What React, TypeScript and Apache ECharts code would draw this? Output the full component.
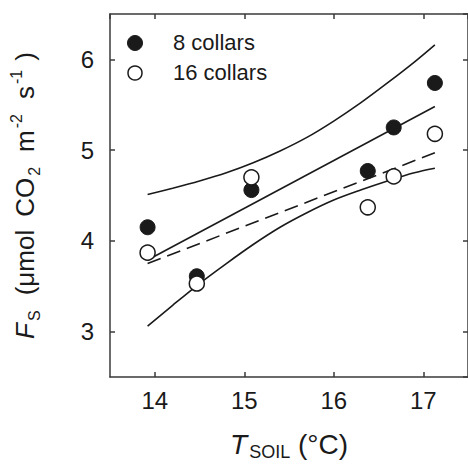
import React, { useEffect, useRef } from 'react';
import * as echarts from 'echarts';

const tempX = [13.92, 14.47, 15.08, 16.38, 16.67, 17.13];
const flux8 = [4.15, 3.61, 4.56, 4.77, 5.25, 5.74];
const flux16 = [3.87, 3.53, 4.7, 4.37, 4.71, 5.18];
const fitX = [13.92, 17.13];
const fit8Y = [3.79, 5.48];
const fit16Y = [3.75, 4.97];
const bandX = [13.92, 14.2, 14.5, 14.8, 15.1, 15.4, 15.7, 16.0, 16.3, 16.6, 16.9, 17.13];
const upperY = [4.51, 4.58, 4.66, 4.75, 4.86, 4.99, 5.14, 5.32, 5.52, 5.74, 5.97, 6.16];
const lowerY = [3.06, 3.29, 3.53, 3.75, 3.96, 4.15, 4.31, 4.45, 4.56, 4.66, 4.75, 4.8];
const seriesNames = ['8 collars', '16 collars'];

const FONT = '"Liberation Sans", Arial, Helvetica, sans-serif';
const INK = '#1a1a1a';
const AXIS = '#3a3a3a';

const zip = (xs: number[], ys: number[]) => xs.map((x, i) => [x, ys[i]]);

export default function App() {
  const ref = useRef<HTMLDivElement>(null);
  useEffect(() => {
    document.body.style.margin = '0';
    if (!ref.current) return;
    const chart = echarts.init(ref.current, undefined, { renderer: 'svg' });
    const axisCommon = {
      type: 'value' as const,
      splitNumber: 4,
      axisLine: { show: true, lineStyle: { color: AXIS, width: 1.5 } },
      axisTick: { show: true, inside: true, length: 5, lineStyle: { color: AXIS, width: 1.5 } },
      splitLine: { show: false },
    };
    const lineCommon = {
      type: 'line' as const,
      showSymbol: false,
      symbol: 'none',
      silent: true,
      z: 2,
    };
    const main = { color: INK, fontFamily: FONT };
    chart.setOption({
      animation: false,
      backgroundColor: '#ffffff',
      textStyle: { fontFamily: FONT },
      grid: { left: 107, top: 14, width: 364, height: 363, containLabel: false },
      graphic: [
        {
          type: 'circle',
          shape: { cx: 135, cy: 43, r: 7.5 },
          style: { fill: INK, stroke: INK, lineWidth: 1 },
          z: 10,
        },
        {
          type: 'text',
          x: 173,
          y: 42,
          style: { text: seriesNames[0], fontSize: 22, fill: INK, fontFamily: FONT, verticalAlign: 'middle', align: 'left' },
          z: 10,
        },
        {
          type: 'circle',
          shape: { cx: 135, cy: 73, r: 7 },
          style: { fill: '#ffffff', stroke: INK, lineWidth: 1.5 },
          z: 10,
        },
        {
          type: 'text',
          x: 173,
          y: 72,
          style: { text: seriesNames[1], fontSize: 22, fill: INK, fontFamily: FONT, verticalAlign: 'middle', align: 'left' },
          z: 10,
        },
      ],
      xAxis: [
        {
          ...axisCommon,
          min: 13.5,
          max: 17.5,
          position: 'bottom',
          axisLabel: {
            show: true,
            fontSize: 24,
            color: INK,
            fontFamily: FONT,
            margin: 11,
            showMinLabel: false,
            showMaxLabel: false,
          },
          name: '{it|T}{sub|SOIL}{n| (°C)}',
          nameLocation: 'middle',
          nameGap: 50,
          nameTextStyle: {
            rich: {
              it: { ...main, fontSize: 28, fontStyle: 'italic', lineHeight: 34 },
              sub: { ...main, fontSize: 18, lineHeight: 18, verticalAlign: 'bottom', padding: [0, 0, 0, 2] },
              n: { ...main, fontSize: 28, lineHeight: 34 },
            },
          },
        },
        {
          ...axisCommon,
          min: 13.5,
          max: 17.5,
          position: 'top',
          axisLabel: { show: false },
        },
      ],
      yAxis: [
        {
          ...axisCommon,
          min: 2.5,
          max: 6.5,
          position: 'left',
          axisLabel: {
            show: true,
            fontSize: 24,
            color: INK,
            fontFamily: FONT,
            margin: 16,
            showMinLabel: false,
            showMaxLabel: false,
          },
          name: '{it|F}{sub|S}{ns|(μmol}{ns|CO}{sub|2}{ns|m}{sup|-2}{ns|s}{sup|-1}{cl|)}',
          nameLocation: 'middle',
          nameGap: 68,
          nameTextStyle: {
            rich: {
              it: { ...main, fontSize: 26, fontStyle: 'italic', lineHeight: 34 },
              sub: { ...main, fontSize: 16, lineHeight: 17, verticalAlign: 'bottom', padding: [0, 2, 0, 2] },
              sup: { ...main, fontSize: 16, lineHeight: 17, verticalAlign: 'top', padding: [0, 2, 0, 2] },
              ns: { ...main, fontSize: 26, lineHeight: 34, padding: [0, 0, 0, 13] },
              cl: { ...main, fontSize: 26, lineHeight: 34, padding: [0, 0, 0, 7] },
            },
          },
        },
        {
          ...axisCommon,
          min: 2.5,
          max: 6.5,
          position: 'right',
          axisLabel: { show: false },
        },
      ],
      series: [
        {
          ...lineCommon,
          name: 'upper',
          data: zip(bandX, upperY),
          smooth: 0.3,
          lineStyle: { color: INK, width: 1.6 },
        },
        {
          ...lineCommon,
          name: 'lower',
          data: zip(bandX, lowerY),
          smooth: 0.3,
          lineStyle: { color: INK, width: 1.6 },
        },
        {
          ...lineCommon,
          name: 'fit8',
          data: zip(fitX, fit8Y),
          lineStyle: { color: INK, width: 1.6 },
        },
        {
          ...lineCommon,
          name: 'fit16',
          data: zip(fitX, fit16Y),
          lineStyle: { color: INK, width: 1.6, type: [14, 7] },
        },
        {
          type: 'scatter',
          name: seriesNames[0],
          data: zip(tempX, flux8),
          symbol: 'circle',
          symbolSize: 15,
          itemStyle: { color: INK, borderColor: INK, borderWidth: 1, opacity: 1 },
          z: 5,
        },
        {
          type: 'scatter',
          name: seriesNames[1],
          data: zip(tempX, flux16),
          symbol: 'circle',
          symbolSize: 15,
          itemStyle: { color: '#ffffff', borderColor: INK, borderWidth: 1.5, opacity: 1 },
          z: 6,
        },
      ],
    });
    return () => chart.dispose();
  }, []);
  return <div ref={ref} style={{ width: 468, height: 471 }} />;
}
